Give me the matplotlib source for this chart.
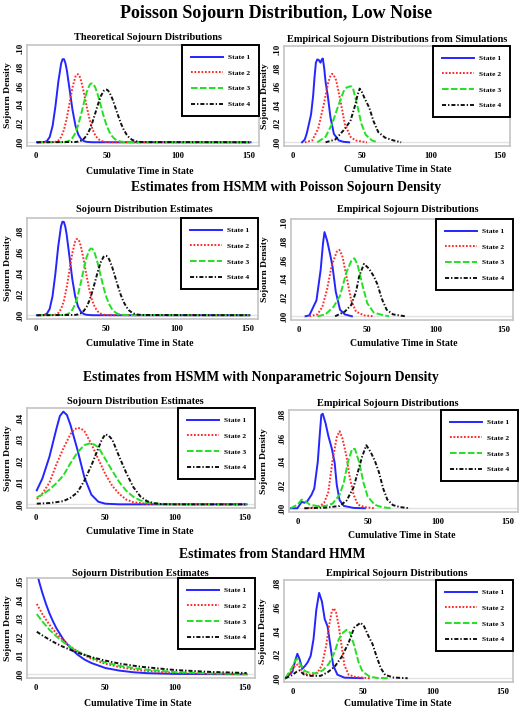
"""Poisson sojourn distributions, low noise: theoretical, estimated and empirical."""

import matplotlib
matplotlib.use("Agg")
import matplotlib.pyplot as plt

plt.rcParams["font.family"] = ["Liberation Serif", "DejaVu Serif"]
plt.rcParams["font.weight"] = "bold"

W, H = 522, 709   # figure size in pixels

# ---------------------------------------------------------------------------
# Data
# ---------------------------------------------------------------------------

STATES = ["State 1", "State 2", "State 3", "State 4"]

# Row 1 left: theoretical Poisson sojourn densities
theo_s1_x = [1, 6, 8, 10, 12, 14, 16, 18, 19, 20, 21, 22, 24, 26, 28, 30, 32, 34, 36, 40, 151]
theo_s1_y = [0, .0002, .0013, .0058, .0176, .0387, .0646, .0844, .0888, .0888, .0846, .0769,
             .0557, .0343, .0181, .0083, .0033, .0012, .0004, 0, 0]
theo_s2_x = [1, 12, 14, 16, 18, 20, 22, 24, 26, 28, 29, 30, 31, 32, 34, 36, 38, 40, 42, 44,
             46, 48, 50, 55, 151]
theo_s2_y = [0, .0001, .0005, .0019, .0057, .0134, .0261, .0426, .0590, .0702, .0726, .0726,
             .0703, .0659, .0529, .0378, .0242, .0139, .0073, .0035, .0015, .0006, .0002, 0, 0]
theo_s3_x = [1, 20, 22, 24, 26, 28, 30, 32, 34, 36, 38, 39, 40, 41, 42, 44, 46, 48, 50, 52,
             54, 56, 58, 60, 64, 151]
theo_s3_y = [0, .0002, .0007, .0019, .0047, .0100, .0185, .0298, .0424, .0539, .0613, .0629,
             .0629, .0614, .0585, .0495, .0382, .0271, .0177, .0107, .0060, .0031, .0015,
             .0007, .0001, 0]
theo_s4_x = [1, 28, 30, 32, 34, 36, 38, 40, 42, 44, 46, 48, 49, 50, 51, 52, 54, 56, 58, 60,
             62, 64, 66, 68, 70, 72, 75, 151]
theo_s4_y = [0, .0003, .0007, .0017, .0038, .0075, .0134, .0215, .0312, .0412, .0498, .0552,
             .0563, .0563, .0552, .0531, .0464, .0376, .0285, .0201, .0133, .0082, .0046,
             .0025, .0013, .0006, .0002, 0]

# Row 1 right: empirical sojourn densities from simulations
sim_s1_x = [7, 9, 10.5, 12, 13.5, 15, 16, 17, 18, 19, 20.3, 21.3, 22, 23, 24, 25.6, 27.5,
            30, 33.5, 37, 41]
sim_s1_y = [0, .003, .010, .020, .030, .050, .070, .086, .0895, .089, .086, .0895, .0905,
            .080, .065, .050, .027, .009, .002, .0005, 0]
sim_s2_x = [9, 14.4, 18.7, 22.7, 25.8, 27.3, 28.7, 30, 31.6, 34.7, 37.8, 41.9, 45.5, 53.8]
sim_s2_y = [0, .002, .015, .041, .064, .071, .074, .072, .067, .045, .020, .006, .002, 0]
sim_s3_x = [18, 24, 28.7, 33.5, 37, 39, 40.7, 42.3, 43.8, 46.7, 49.8, 53, 57.4, 61.5]
sim_s3_y = [0, .006, .020, .041, .055, .059, .060, .0605, .058, .041, .020, .008, .002, 0]
sim_s4_x = [24, 31, 37, 41.9, 45.5, 47, 48.6, 50, 52, 55.6, 58.5, 62, 66.9, 73, 78.5]
sim_s4_y = [0, .003, .013, .023, .041, .051, .058, .055, .048, .037, .023, .011, .005, .002, 0]

# Row 2 left: HSMM estimates with Poisson sojourn density
pois_s1_y = [0, .0002, .0014, .0060, .0180, .0392, .0650, .0846, .0889, .0887, .0843, .0765,
             .0553, .0340, .0180, .0083, .0033, .0012, .0004, 0, 0]
pois_s2_y = [0, .0001, .0005, .0020, .0058, .0136, .0264, .0430, .0592, .0702, .0724, .0723,
             .0700, .0656, .0527, .0377, .0242, .0139, .0073, .0035, .0015, .0006, .0002, 0, 0]
pois_s3_y = [0, .0002, .0008, .0021, .0051, .0106, .0194, .0309, .0435, .0549, .0620, .0634,
             .0632, .0614, .0582, .0489, .0375, .0265, .0172, .0104, .0058, .0030, .0014,
             .0006, .0001, 0]
pois_s4_y = [0, .0003, .0008, .0018, .0040, .0078, .0138, .0220, .0317, .0417, .0502, .0555,
             .0565, .0564, .0552, .0530, .0462, .0374, .0283, .0199, .0131, .0081, .0046,
             .0025, .0013, .0006, .0002, 0]

# Row 2 right: empirical sojourn densities (Poisson HSMM)
epois_s1_x = [4.7, 7.5, 10.4, 12.7, 15.8, 17.5, 18.6, 20.5, 22.9, 24.5, 26.9, 30, 33.5, 38.7]
epois_s1_y = [0, .001, .010, .017, .050, .078, .090, .081, .065, .053, .026, .007, .002, 0]
epois_s2_x = [7.5, 13.4, 17, 20.5, 24, 27.6, 29.5, 31.6, 34.7, 38.2, 41.7, 47.6, 54.7]
epois_s2_y = [0, .002, .010, .029, .055, .069, .071, .065, .043, .017, .005, .001, 0]
epois_s3_x = [13.4, 19.3, 25.2, 30, 34.7, 38.2, 40.6, 42.9, 46.5, 50, 54.7, 59.4, 66]
epois_s3_y = [0, .002, .010, .022, .047, .059, .062, .055, .033, .014, .004, .002, 0]
epois_s4_x = [26.4, 33.5, 38.2, 41.7, 44.1, 47.6, 51.2, 54.7, 57.5, 60.6, 64.2, 68.9, 77.8]
epois_s4_y = [0, .005, .012, .026, .043, .056, .051, .043, .034, .019, .007, .002, 0]

# Row 3 left: HSMM estimates with nonparametric sojourn density
np_s1_x = [1, 5, 10, 15, 17.5, 20, 22.5, 25, 30, 35, 40, 45, 50, 60, 151]
np_s1_y = [.0065, .012, .022, .035, .041, .043, .0415, .037, .0255, .0126, .0045, .0012,
           .0003, 0, 0]
np_s2_x = [1, 5, 10, 15, 20, 25, 27.5, 30, 32.5, 35, 40, 45, 50, 55, 60, 65, 70, 80, 151]
np_s2_y = [.0025, .005, .010, .0185, .026, .0325, .0345, .0355, .0352, .034, .028, .021,
           .014, .0085, .0048, .0022, .001, .0002, 0]
np_s3_x = [1, 5, 10, 15, 20, 25, 30, 35, 40, 45, 50, 55, 60, 65, 70, 75, 80, 90, 151]
np_s3_y = [.0032, .0045, .0068, .0098, .0134, .019, .024, .0275, .0285, .0265, .021, .0155,
           .0103, .0063, .0035, .0018, .0009, .0002, 0]
np_s4_x = [1, 10, 15, 20, 25, 30, 35, 40, 45, 47.5, 50, 52.5, 55, 60, 65, 70, 75, 80, 85,
           90, 100, 151]
np_s4_y = [.0003, .0006, .001, .0015, .003, .0055, .011, .018, .026, .030, .0325, .0318,
           .030, .022, .0145, .008, .0037, .0014, .0005, .0001, 0, 0]

# Row 3 right: empirical sojourn densities (nonparametric HSMM)
enp_s1_x = [-5, 0, 3, 5, 7, 10, 12, 14.5, 15.7, 17, 18, 20, 22, 24.5, 26.5, 28, 30, 33, 40, 48]
enp_s1_y = [0, 0, .0055, .0047, .006, .0115, .017, .040, .060, .080, .081, .073, .062, .051,
            .039, .020, .007, .002, .0003, 0]
enp_s2_x = [5, 15, 19, 22, 25, 28, 30, 32, 35, 37, 40, 43, 48, 55]
enp_s2_y = [0, .001, .0047, .014, .041, .061, .066, .060, .044, .028, .0115, .003, .001, 0]
enp_s3_x = [-5, 0, 3, 6, 9, 14, 20, 25, 30, 33, 36, 39, 41, 44, 47, 50, 55, 60, 67]
enp_s3_y = [0, .003, .0074, .0055, .003, .002, .002, .004, .0115, .022, .040, .051, .0507,
            .039, .022, .010, .003, .001, 0]
enp_s4_x = [5, 20, 30, 35, 40, 43, 46, 49, 52, 55, 58, 61, 64, 68, 73, 80]
enp_s4_y = [0, .0005, .002, .0066, .018, .031, .044, .054, .0485, .041, .031, .017, .0074,
            .0027, .001, 0]

# Row 4 left: standard HMM (implied geometric sojourn densities)
hmm_s1_x = [1, 3, 5, 7.5, 10, 12.5, 15, 20, 25, 30, 35, 40, 50, 60, 70, 80, 100, 125, 151]
hmm_s1_y = [.055, .0491, .0439, .0381, .033, .0287, .0249, .0188, .0142, .0107, .0080, .0061,
            .0034, .0020, .0011, .0006, .0002, .0001, 0]
hmm_s2_x = [1, 5, 10, 15, 20, 25, 30, 40, 50, 60, 75, 100, 125, 151]
hmm_s2_y = [.038, .0325, .0268, .0221, .0182, .0150, .0124, .0084, .0057, .0039, .0021,
            .0007, .0003, .0001]
hmm_s3_x = [1, 5, 10, 15, 20, 25, 30, 40, 50, 60, 75, 100, 125, 151]
hmm_s3_y = [.0325, .0285, .0241, .0205, .0174, .0147, .0125, .0090, .0064, .0046, .0028,
            .0012, .0005, .0002]
hmm_s4_x = [1, 5, 10, 15, 20, 25, 30, 40, 50, 60, 75, 100, 125, 151]
hmm_s4_y = [.023, .0210, .0187, .0166, .0148, .0132, .0117, .0093, .0074, .0058, .0041,
            .0023, .0013, .0007]

# Row 4 right: empirical sojourn densities (standard HMM)
ehmm_s1_x = [-5, 0, 2, 3.5, 5, 7, 9, 11, 13, 15, 17, 19, 21, 23, 25, 27, 29, 32, 37, 50]
ehmm_s1_y = [0, .0055, .015, .0207, .0165, .008, .0105, .0138, .019, .033, .058, .0723, .065,
             .050, .044, .0276, .011, .003, .0005, 0]
ehmm_s2_x = [-5, 0, 2, 4, 7, 10, 14, 18, 21, 24, 26, 28, 29.5, 31, 33, 35, 37, 40, 45, 55]
ehmm_s2_y = [0, .007, .011, .0116, .0055, .0033, .0028, .005, .011, .0276, .044, .0566,
             .0593, .056, .044, .0276, .011, .003, .001, 0]
ehmm_s3_x = [-5, 0, 2, 3.5, 6, 9, 12, 17, 22, 26, 30, 33, 36, 38.5, 41, 44, 47, 50, 55, 60, 68]
ehmm_s3_y = [0, .0097, .015, .0165, .011, .006, .0047, .004, .007, .0124, .022, .033, .0386,
             .041, .0386, .0276, .0138, .0055, .0014, .0003, 0]
ehmm_s4_x = [-5, 0, 3, 5, 8, 12, 20, 25, 30, 35, 40, 44, 48.5, 51, 54, 57, 60, 63, 66, 72, 82]
ehmm_s4_y = [0, .0028, .0055, .0066, .0033, .002, .002, .005, .0097, .018, .030, .043, .047,
             .044, .036, .029, .018, .0083, .0028, .0006, 0]

YTICKS_10 = [0, .02, .04, .06, .08, .10]
YTICKS_08 = [0, .02, .04, .06, .08]
YTICKS_04 = [0, .01, .02, .03, .04]
YTICKS_05 = [0, .01, .02, .03, .04, .05]
XTICKS = [0, 50, 100, 150]

# ---------------------------------------------------------------------------
# Styles
# ---------------------------------------------------------------------------

COLORS = ["#2525ff", "#ff2a2a", "#22e022", "#111111"]
LSTYLES = ["-", (0, (0.9, 0.9)), (0, (3.4, 1.2)), (0, (2.1, 1.0, 0.7, 1.0))]
LW = 1.4
BOX_GREY = "#c4c4c4"


def px_axes(fig, x0, y0, x1, y1):
    """Axes from pixel box (top-left origin)."""
    return fig.add_axes([x0 / W, 1 - y1 / H, (x1 - x0) / W, (y1 - y0) / H])


def draw_panel(fig, box, curves, ylim, yticks, title, title_xy, xlab_xy, ylab_x):
    ax = px_axes(fig, *box)
    ax.axhline(0, color="#e2e2e2", lw=1.0, zorder=0)
    for (x, y), c, ls, lab in zip(curves, COLORS, LSTYLES, STATES):
        ax.plot(x, y, color=c, ls=ls, lw=LW, label=lab)
    ax.set_xlim(-6, 157)
    ax.set_ylim(*ylim)
    ax.set_xticks(XTICKS)
    ax.set_xticklabels([str(t) for t in XTICKS], fontsize=6.2, fontweight="bold")
    ax.set_yticks(yticks)
    ax.set_yticklabels([f"{t:.2f}"[1:] for t in yticks], fontsize=6.4, fontweight="bold",
                       rotation=90, va="center")
    ax.tick_params(axis="x", length=0, pad=4.5)
    ax.tick_params(axis="y", length=0, pad=2)
    for sp in ax.spines.values():
        sp.set_color(BOX_GREY)
        sp.set_linewidth(1.2)

    leg = ax.legend(loc="upper right", borderaxespad=0, fancybox=False, framealpha=1,
                    edgecolor="black", prop=dict(size=5.4, weight="bold"),
                    handlelength=4.2, handletextpad=0.7, labelspacing=1.25, borderpad=1.2)
    leg.get_frame().set_linewidth(1.4)

    fig.text(title_xy[0] / W, 1 - title_xy[1] / H, title, ha="center", va="center",
             fontsize=7.4, fontweight="bold")
    fig.text(xlab_xy[0] / W, 1 - xlab_xy[1] / H, "Cumulative Time in State", ha="center",
             va="center", fontsize=7.0, fontweight="bold")
    fig.text(ylab_x / W, 1 - (box[1] + box[3]) / 2 / H, "Sojourn Density", ha="center",
             va="center", rotation=90, fontsize=6.8, fontweight="bold")
    return ax


fig = plt.figure(figsize=(W / 100, H / 100), dpi=100)

fig.text(276 / W, 1 - 13 / H, "Poisson Sojourn Distribution, Low Noise", ha="center",
         va="center", fontsize=13, fontweight="bold")
fig.text(286 / W, 1 - 188 / H, "Estimates from HSMM with Poisson Sojourn Density",
         ha="center", va="center", fontsize=9.8, fontweight="bold")
fig.text(261 / W, 1 - 378 / H, "Estimates from HSMM with Nonparametric Sojourn Density",
         ha="center", va="center", fontsize=9.8, fontweight="bold")
fig.text(272 / W, 1 - 555 / H, "Estimates from Standard HMM",
         ha="center", va="center", fontsize=9.8, fontweight="bold")

# row 1
draw_panel(fig, (27, 45, 259, 146),
           [(theo_s1_x, theo_s1_y), (theo_s2_x, theo_s2_y),
            (theo_s3_x, theo_s3_y), (theo_s4_x, theo_s4_y)],
           (-0.004, 0.104), YTICKS_10, "Theoretical Sojourn Distributions",
           (148, 38), (140, 171), 8)
draw_panel(fig, (284, 46, 510, 146),
           [(sim_s1_x, sim_s1_y), (sim_s2_x, sim_s2_y),
            (sim_s3_x, sim_s3_y), (sim_s4_x, sim_s4_y)],
           (-0.004, 0.104), YTICKS_10, "Empirical Sojourn Distributions from Simulations",
           (397, 39), (398, 170), 265)

# row 2
draw_panel(fig, (27, 218, 258, 319),
           [(theo_s1_x, pois_s1_y), (theo_s2_x, pois_s2_y),
            (theo_s3_x, pois_s3_y), (theo_s4_x, pois_s4_y)],
           (-0.0036, 0.0924), YTICKS_08, "Sojourn Distribution Estimates",
           (144, 210), (140, 343), 8)
draw_panel(fig, (291, 219, 513, 320),
           [(epois_s1_x, epois_s1_y), (epois_s2_x, epois_s2_y),
            (epois_s3_x, epois_s3_y), (epois_s4_x, epois_s4_y)],
           (-0.004, 0.104), YTICKS_10, "Empirical Sojourn Distributions",
           (408, 210), (404, 344), 265)

# row 3
draw_panel(fig, (27, 408, 255, 508),
           [(np_s1_x, np_s1_y), (np_s2_x, np_s2_y),
            (np_s3_x, np_s3_y), (np_s4_x, np_s4_y)],
           (-0.0017, 0.0447), YTICKS_04, "Sojourn Distribution Estimates",
           (135, 401), (140, 532), 8)
draw_panel(fig, (289, 410, 518, 512),
           [(enp_s1_x, enp_s1_y), (enp_s2_x, enp_s2_y),
            (enp_s3_x, enp_s3_y), (enp_s4_x, enp_s4_y)],
           (-0.0032, 0.0842), YTICKS_08, "Empirical Sojourn Distributions",
           (388, 403), (402, 536), 264)

# row 4
draw_panel(fig, (27, 578, 255, 678),
           [(hmm_s1_x, hmm_s1_y), (hmm_s2_x, hmm_s2_y),
            (hmm_s3_x, hmm_s3_y), (hmm_s4_x, hmm_s4_y)],
           (-0.002, 0.052), YTICKS_05, "Sojourn Distribution Estimates",
           (140, 573), (138, 703), 8)
draw_panel(fig, (284, 580, 513, 682),
           [(ehmm_s1_x, ehmm_s1_y), (ehmm_s2_x, ehmm_s2_y),
            (ehmm_s3_x, ehmm_s3_y), (ehmm_s4_x, ehmm_s4_y)],
           (-0.0032, 0.0832), YTICKS_08, "Empirical Sojourn Distributions",
           (397, 573), (398, 704), 263)

fig.savefig("out.png", dpi=100)
